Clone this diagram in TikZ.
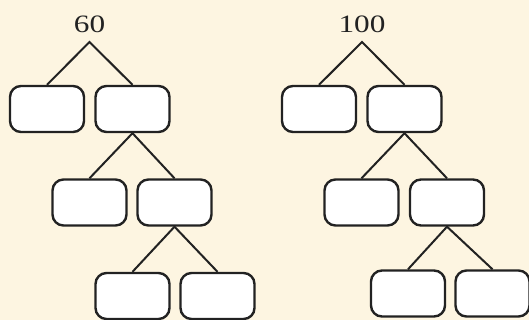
\documentclass[tikz,border=0pt]{standalone}
\usepackage{fontspec}
\setmainfont{Liberation Serif}
\definecolor{bgc}{HTML}{FDF5E1}
\definecolor{inkc}{HTML}{222222}
\begin{document}
\begin{tikzpicture}[x=1pt,y=-1pt,
  box/.style={draw=inkc,line width=2.4pt,fill=white,rounded corners=11pt,minimum width=74pt,minimum height=46pt,inner sep=0pt},
  link/.style={draw=inkc,line width=2pt},
  rootlbl/.style={inner sep=0pt,text=inkc,font=\fontsize{25}{30}\selectfont}]
\fill[bgc] (0,0) rectangle (529,320);
\useasboundingbox (0,0) rectangle (529,320);
% left tree
\node[rootlbl] (t1) at (89.5,24) {\scalebox{1.25}[1]{60}};
\coordinate (a1) at (89.5,42);
\node[box] (L1) at (47,109) {};
\node[box] (L2) at (132.5,109) {};
\node[box] (L3) at (89.5,202.5) {};
\node[box] (L4) at (174.5,202.5) {};
\node[box] (L5) at (132.5,296) {};
\node[box] (L6) at (217.5,296) {};
\draw[link] (L1.north) -- (a1) -- (L2.north);
\draw[link] (L3.north) -- (L2.south) -- (L4.north);
\draw[link] (L5.north) -- (L4.south) -- (L6.north);
% right tree
\node[rootlbl] (t2) at (362,24) {\scalebox{1.25}[1]{100}};
\coordinate (a2) at (362,42);
\node[box] (R1) at (319,109) {};
\node[box] (R2) at (404.5,109) {};
\node[box] (R3) at (361.5,202.5) {};
\node[box] (R4) at (447,202.5) {};
\node[box] (R5) at (408,293.5) {};
\node[box] (R6) at (492.5,293.5) {};
\draw[link] (R1.north) -- (a2) -- (R2.north);
\draw[link] (R3.north) -- (R2.south) -- (R4.north);
\draw[link] (R5.north) -- (R4.south) -- (R6.north);
\end{tikzpicture}
\end{document}
